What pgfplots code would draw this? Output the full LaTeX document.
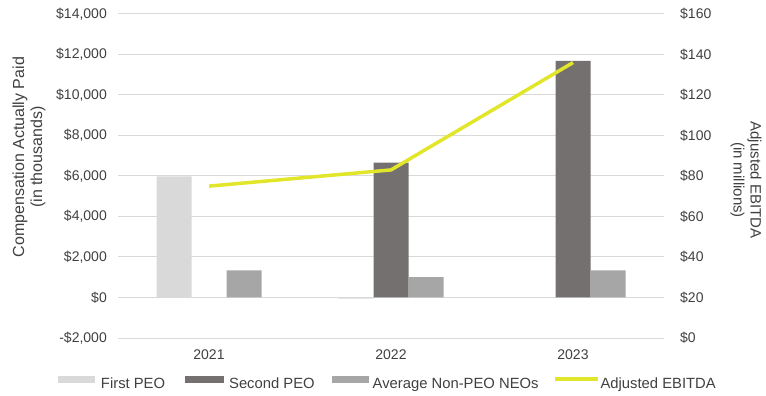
\documentclass[border=0pt]{standalone}
\usepackage{pgfplots}
\pgfplotsset{compat=1.18}
\usepackage{fontspec}
\setmainfont{Liberation Sans}

\definecolor{peoA}{HTML}{D9D9D9}
\definecolor{peoB}{HTML}{747070}
\definecolor{neo}{HTML}{A6A6A6}
\definecolor{ebitda}{HTML}{E2E62A}
\definecolor{gridc}{HTML}{D9D9D9}
\definecolor{txt}{HTML}{404040}

\begin{document}
\begin{tikzpicture}[font=\fontsize{14bp}{17bp}\selectfont]
\path[use as bounding box] (0,0) rectangle (766bp,396bp);

% Compensation actually paid (bars, left axis)
\begin{axis}[
  at={(118bp,58bp)}, anchor=south west,
  scale only axis, width=546bp, height=324bp,
  xmin=-0.5, xmax=2.5, ymin=-2000, ymax=14000,
  scaled y ticks=false,
  axis line style={draw=none},
  major tick length=0pt,
  ytick={-2000,0,...,14000},
  yticklabels={{-\$2,000},{\$0},{\$2,000},{\$4,000},{\$6,000},{\$8,000},{\$10,000},{\$12,000},{\$14,000}},
  xtick={0,1,2}, xticklabels={2021,2022,2023},
  ymajorgrids, grid style={gridc, line width=1bp},
  yticklabel style={inner sep=0pt, xshift=-11bp, text=txt},
  xticklabel style={inner sep=0pt, yshift=-12bp, text=txt},
  ybar=0pt, bar width=35bp,
  legend style={at={(axis description cs:-0.1099,-0.1389)}, anchor=west,
    draw=none, fill=none, inner sep=0pt, outer sep=0pt,
    font=\fontsize{14.8bp}{17bp}\selectfont,
    nodes={inner sep=0pt, text=txt}, column sep=0pt},
  legend columns=4,
]
\addplot[fill=peoA, draw=none,
  legend image code/.code={\fill[peoA] (0bp,1.5bp) rectangle (37bp,8.5bp); \path[draw=none,fill=none] (0,0) -- (43bp,0);}]
  coordinates {(0,5980) (1,-60)};
\addlegendentry{First PEO}
\addplot[fill=peoB, draw=none,
  legend image code/.code={\fill[peoB] (20bp,1.5bp) rectangle (59bp,8.5bp); \path[draw=none,fill=none] (0,0) -- (64bp,0);}]
  coordinates {(1,6660) (2,11680)};
\addlegendentry{Second PEO}
\addplot[fill=neo, draw=none,
  legend image code/.code={\fill[neo] (17bp,1.5bp) rectangle (54bp,8.5bp); \path[draw=none,fill=none] (0,0) -- (58bp,0);}]
  coordinates {(0,1340) (1,1010) (2,1340)};
\addlegendentry{Average Non-PEO NEOs}
\addlegendimage{legend image code/.code={\draw[ebitda, line width=3.5bp] (16bp,5bp) -- (59bp,5bp); \path[draw=none,fill=none] (0,0) -- (62bp,0);}}
\addlegendentry{Adjusted EBITDA}
\end{axis}

% Adjusted EBITDA (line, right axis)
\begin{axis}[
  at={(118bp,58bp)}, anchor=south west,
  scale only axis, width=546bp, height=324bp,
  xmin=-0.5, xmax=2.5, ymin=0, ymax=160,
  axis y line*=right, axis x line=none,
  axis line style={draw=none},
  major tick length=0pt,
  ytick={0,20,...,160},
  yticklabels={{\$0},{\$20},{\$40},{\$60},{\$80},{\$100},{\$120},{\$140},{\$160}},
  yticklabel style={inner sep=0pt, xshift=16bp, text=txt},
]
\addplot[ebitda, line width=3.5bp, line join=round, mark=none]
  coordinates {(0,75) (1,83) (2,136)};
\end{axis}

\node[rotate=90, align=center, text=txt, font=\fontsize{16bp}{18bp}\selectfont]
  at (29bp,239bp) {Compensation Actually Paid\\(in thousands)};
\node[rotate=-90, align=center, text=txt, font=\fontsize{15bp}{17bp}\selectfont]
  at (746bp,216bp) {Adjusted EBITDA\\(in millions)};
\end{tikzpicture}
\end{document}
